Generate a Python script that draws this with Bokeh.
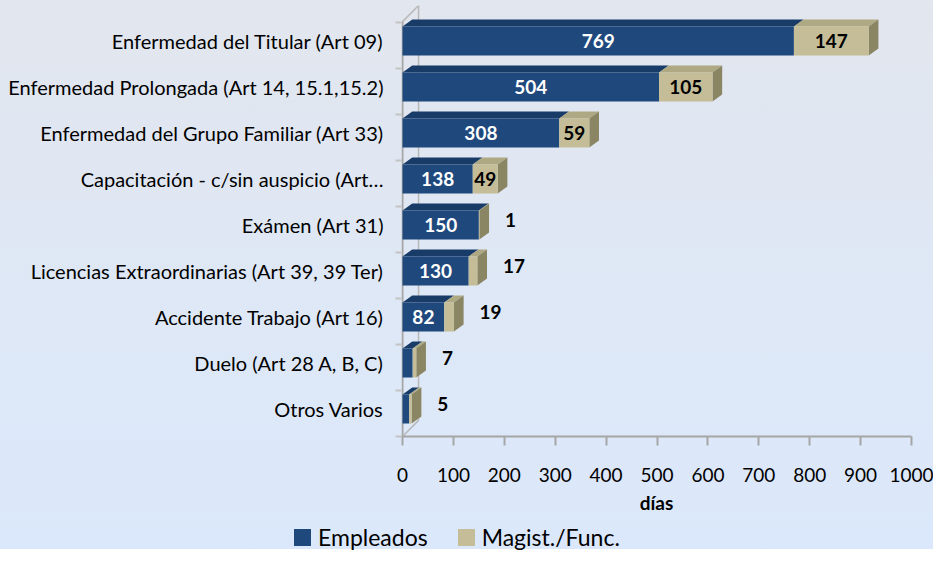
from bokeh.plotting import figure
from bokeh.layouts import column
from bokeh.models import FixedTicker, Range1d, Div
from bokeh.embed import file_html
from bokeh.resources import INLINE
from bokeh.core.properties import value

# ---------------- data ----------------
categories = [
    "Enfermedad del Titular (Art 09)",
    "Enfermedad Prolongada (Art 14, 15.1,15.2)",
    "Enfermedad del Grupo Familiar (Art 33)",
    "Capacitación - c/sin auspicio (Art…",
    "Exámen (Art 31)",
    "Licencias Extraordinarias (Art 39, 39 Ter)",
    "Accidente Trabajo (Art 16)",
    "Duelo (Art 28 A, B, C)",
    "Otros Varios",
]
empleados = [769, 504, 308, 138, 150, 130, 82, 20, 13]
magist = [147, 105, 59, 49, 1, 17, 19, 7, 5]
series_names = ["Empleados", "Magist./Func."]
x_ticks = [0, 100, 200, 300, 400, 500, 600, 700, 800, 900, 1000]
x_title = "días"

# ---------------- style ----------------
FONT = "Lato"
BLUE, BLUE_TOP = "#1f497d", "#183b68"
TAN, TAN_TOP, TAN_SIDE = "#c4bd97", "#aea883", "#8a8563"
AXIS_GRAY = "#a6a6a6"
H = 0.63        # front-face height (category units)
DY = 0.152      # 3-D depth, vertical (category units)
DX = 19.0       # 3-D depth, horizontal (data units)
WALL_DX, WALL_DY = 31.5, 0.35

n = len(categories)
yc = [n - 1 - i for i in range(n)]
totals = [e + m for e, m in zip(empleados, magist)]

p = figure(width=933, height=520, output_backend="svg", toolbar_location=None,
           x_range=Range1d(-2, 1000), y_range=Range1d(-0.6, n - 0.23),
           min_border_left=401, min_border_right=22, min_border_top=5,
           min_border_bottom=84)
p.border_fill_color = None
p.background_fill_color = None
p.outline_line_color = None
p.xgrid.visible = False
p.ygrid.visible = False

# walls (3-D frame)
top_front = n - 0.6 + 0.02
p.line([0, 0], [-0.6, top_front], line_color=AXIS_GRAY, line_width=2)
p.line([WALL_DX, WALL_DX], [-0.6 + WALL_DY, n - 0.23], line_color="#b8b8b8", line_width=1.5)
p.line([0, WALL_DX], [top_front, n - 0.23], line_color="#b8b8b8", line_width=1.5)
p.line([0, WALL_DX], [-0.6, -0.6 + WALL_DY], line_color="#b8b8b8", line_width=1.5)

# top and side faces
bt_x, bt_y, tt_x, tt_y, ts_x, ts_y = [], [], [], [], [], []
for y, e, t in zip(yc, empleados, totals):
    top = y + H / 2
    bt_x.append([0, DX, e + DX, e]); bt_y.append([top, top + DY, top + DY, top])
    tt_x.append([e, e + DX, t + DX, t]); tt_y.append([top, top + DY, top + DY, top])
    ts_x.append([t, t, t + DX, t + DX]); ts_y.append([y - H / 2, top, top + DY, y - H / 2 + DY])
p.patches(bt_x, bt_y, fill_color=BLUE_TOP, line_color=None)
p.patches(tt_x, tt_y, fill_color=TAN_TOP, line_color=None)
p.patches(ts_x, ts_y, fill_color=TAN_SIDE, line_color=None)

# front faces
p.hbar(y=yc, left=0, right=empleados, height=H, fill_color=BLUE, line_color=None)
p.hbar(y=yc, left=empleados, right=totals, height=H, fill_color=TAN, line_color=None)

# data labels
bx, by, bl = [], [], []
for y, e in zip(yc, empleados):
    if e >= 50:
        bx.append(e / 2); by.append(y); bl.append(str(e))
p.text(bx, by, text=bl, text_color="white", text_font=value(FONT), text_font_style="bold",
       text_font_size="19px", text_align="center", text_baseline="middle")

ix, iy, il, ox, oy, ol = [], [], [], [], [], []
for y, e, m, t in zip(yc, empleados, magist, totals):
    if m >= 40:
        ix.append(e + m / 2); iy.append(y); il.append(str(m))
    else:
        ox.append(t + DX); oy.append(y + 0.1); ol.append(str(m))
p.text(ix, iy, text=il, text_color="black", text_font=value(FONT), text_font_style="bold",
       text_font_size="19px", text_align="center", text_baseline="middle")
p.text(ox, oy, text=ol, text_color="black", text_font=value(FONT), text_font_style="bold",
       text_font_size="19px", text_align="left", text_baseline="middle", x_offset=16)

# y axis
p.yaxis.ticker = FixedTicker(ticks=yc, minor_ticks=[k - 0.6 for k in range(n + 1)])
p.yaxis.major_label_overrides = {y: c for y, c in zip(yc, categories)}
p.yaxis.axis_line_color = None
p.yaxis.major_tick_line_color = None
p.yaxis.major_tick_out = 0
p.yaxis.major_tick_in = 0
p.yaxis.minor_tick_line_color = "#c4c4c4"
p.yaxis.minor_tick_line_width = 2
p.yaxis.minor_tick_out = 6
p.yaxis.minor_tick_in = 0
p.yaxis.major_label_standoff = 12
p.yaxis.major_label_text_font = FONT
p.yaxis.major_label_text_font_size = "20px"
p.yaxis.major_label_text_color = "black"

# x axis
p.xaxis.ticker = FixedTicker(ticks=x_ticks, minor_ticks=[])
p.xaxis.axis_line_color = AXIS_GRAY
p.xaxis.axis_line_width = 2
p.xaxis.major_tick_line_color = AXIS_GRAY
p.xaxis.major_tick_line_width = 2
p.xaxis.major_tick_out = 9
p.xaxis.major_tick_in = 0
p.xaxis.major_label_standoff = 22
p.xaxis.major_label_text_font = FONT
p.xaxis.major_label_text_font_size = "19px"
p.xaxis.major_label_text_color = "black"
p.xaxis.axis_label = x_title
p.xaxis.axis_label_text_font = FONT
p.xaxis.axis_label_text_font_size = "19px"
p.xaxis.axis_label_text_font_style = "bold"
p.xaxis.axis_label_text_color = "black"
p.xaxis.axis_label_standoff = 6

# legend strip (HTML)
sq = "flex-shrink:0;width:17px;height:17px;"
legend_html = (
    '<div style="display:flex;align-items:center;height:23px;margin-top:6px;margin-left:294px;'
    f'font-family:Lato;font-size:23px;line-height:23px;color:#000;white-space:nowrap;">'
    f'<span style="{sq}background:{BLUE};margin-right:7px;"></span>'
    f'<span>{series_names[0]}</span>'
    f'<span style="{sq}background:{TAN};margin-left:30px;margin-right:7px;"></span>'
    f'<span>{series_names[1]}</span></div>'
)
legend_div = Div(text=legend_html, width=933, height=29, margin=0)

layout = column(p, legend_div, spacing=0,
                styles={"background": "linear-gradient(to bottom, #e2e6ee 0%, #dde8f8 70%, #dbe8fb 100%)"})

open("out.html", "w").write(file_html(layout, INLINE))
